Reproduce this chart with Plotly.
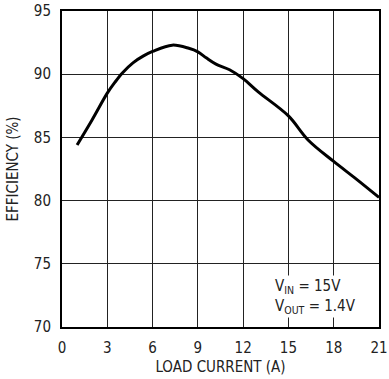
import plotly.graph_objects as go

load_current = [1.0, 2.0, 3.0, 3.5, 4.0, 4.7, 5.4, 6.0, 7.3, 8.4, 9.0, 9.55, 10.2, 11.1, 12.0, 13.0, 15.0, 16.3, 18.0, 19.5, 21.0]
efficiency = [84.4, 86.4, 88.5, 89.35, 90.1, 90.9, 91.45, 91.8, 92.3, 92.05, 91.77, 91.3, 90.8, 90.35, 89.65, 88.6, 86.7, 84.8, 83.1, 81.7, 80.25]

x_ticks = [0, 3, 6, 9, 12, 15, 18, 21]
y_ticks = [70, 75, 80, 85, 90, 95]

FONT = "Liberation Sans Narrow, DejaVu Sans Condensed, Arial Narrow, sans-serif"

fig = go.Figure()
fig.add_trace(go.Scatter(
    x=load_current, y=efficiency, mode="lines",
    line=dict(color="black", width=3, shape="spline", smoothing=1.0),
    showlegend=False, hoverinfo="skip",
))

axis_common = dict(
    showgrid=True, gridcolor="#222", gridwidth=1,
    showline=True, linecolor="black", linewidth=2, mirror=True,
    ticks="outside", ticklen=6, tickcolor="rgba(0,0,0,0)",
    tickfont=dict(family=FONT, size=15, color="#222"),
    zeroline=False, automargin=False,
)

fig.update_xaxes(range=[0, 21], tickvals=x_ticks,
                 title=dict(text="LOAD CURRENT (A)", font=dict(family=FONT, size=15, color="#222"), standoff=5),
                 **axis_common)
fig.update_yaxes(range=[70, 95], tickvals=y_ticks,
                 title=dict(text="EFFICIENCY (%)", font=dict(family=FONT, size=15, color="#222"), standoff=12),
                 **axis_common)

fig.add_annotation(
    x=19.6, y=72.45, xref="x", yref="y", xanchor="right", yanchor="middle",
    text="V<sub>IN</sub> = 15V<br>V<sub>OUT</sub> = 1.4V",
    showarrow=False, align="left", bgcolor="white",
    font=dict(family=FONT, size=15, color="#222"),
)

fig.update_layout(
    width=389, height=379,
    margin=dict(l=62, r=10, t=11, b=52, autoexpand=False),
    paper_bgcolor="white", plot_bgcolor="white",
)

fig.write_html(
    "out.html",
    config={"displayModeBar": False, "staticPlot": True},
    post_script="document.body.style.margin='0';document.body.style.padding='0';document.body.style.overflow='hidden';",
)
